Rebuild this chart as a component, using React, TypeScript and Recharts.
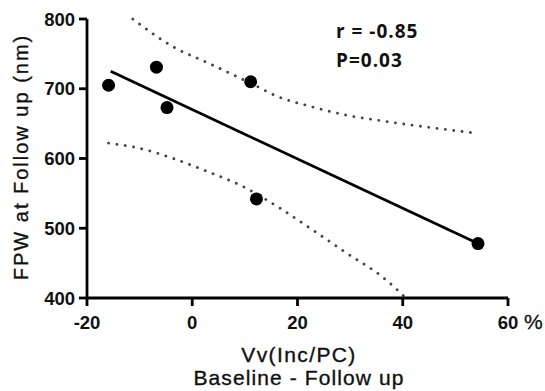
// Scatter of FPW at follow-up vs change in Vv(Inc/PC), with fit line and dotted 95% bands.

import { ComposedChart, Line, Scatter, XAxis, YAxis } from "recharts";

const pointX = [-15.9, -6.8, -4.8, 11.1, 12.2, 54.3];
const pointY = [705, 731, 673, 710, 542, 478];

const fitX = [-15.5, 54.3];
const fitY = [725, 478];

const upperX = [-11.3, -3.6, 3.0, 11.1, 16.2, 22.8, 29.4, 36, 42.6, 53.2];
const upperY = [800, 760, 737, 708, 689, 674, 662, 654, 647, 637];

const lowerX = [-15.9, -10.2, -3.6, 3.0, 9.6, 16.2, 22.8, 29.4, 36, 40.6];
const lowerY = [622, 615, 600, 581, 560, 531, 498, 464, 431, 400];

const xTicks = [-20, 0, 20, 40, 60];
const yTicks = [400, 500, 600, 700, 800];

const pts = (xs: number[], ys: number[]) => xs.map((x, i) => ({ x, y: ys[i] }));

const FONT = "'Liberation Sans', Arial, sans-serif";
const INK = "#111";

function XTick(props: any) {
  const { x, y, payload } = props;
  return (
    <g>
      <text x={x} y={y} dy={13} textAnchor="middle" fontFamily={FONT} fontSize={18.5} fontWeight={700} fill={INK}>
        {payload.value}
      </text>
      {payload.value === 60 && (
        <text x={x + 16} y={y} dy={13} fontFamily={FONT} fontSize={21} fill={INK} stroke={INK} strokeWidth={0.3}>%</text>
      )}
    </g>
  );
}

function Dot(props: any) {
  return <circle cx={props.cx} cy={props.cy} r={6.5} fill="#000" />;
}

export default function App() {
  return (
    <div style={{ position: "absolute", left: 0, top: 0, width: 545, height: 391, background: "#fff" }}>
      <ComposedChart width={545} height={391} margin={{ top: 19, right: 37, bottom: 0, left: 0 }}>
        <XAxis dataKey="x" type="number" domain={[-20, 60]} ticks={xTicks} height={93}
               axisLine={{ stroke: "#000", strokeWidth: 2.8 }} tickLine={{ stroke: "#000", strokeWidth: 2.8 }}
               tickSize={8} tickMargin={10} tick={<XTick />} />
        <YAxis dataKey="y" type="number" domain={[400, 800]} ticks={yTicks} width={87}
               axisLine={{ stroke: "#000", strokeWidth: 2.8 }} tickLine={{ stroke: "#000", strokeWidth: 2.8 }}
               tickSize={8} tickMargin={4}
               tick={{ fontFamily: FONT, fontSize: 18.5, fontWeight: 700, fill: INK }} />
        <Line data={pts(upperX, upperY)} dataKey="y" type="monotone" stroke="#444" strokeWidth={2.8}
              strokeDasharray="0.1 8.3" strokeLinecap="round" dot={false} isAnimationActive={false} />
        <Line data={pts(lowerX, lowerY)} dataKey="y" type="monotone" stroke="#444" strokeWidth={2.8}
              strokeDasharray="0.1 8.3" strokeLinecap="round" dot={false} isAnimationActive={false} />
        <Line data={pts(fitX, fitY)} dataKey="y" type="linear" stroke="#000" strokeWidth={2.8}
              dot={false} isAnimationActive={false} />
        <Scatter data={pts(pointX, pointY)} dataKey="y" fill="#000" shape={<Dot />} isAnimationActive={false} />
      </ComposedChart>
      <svg width={545} height={391} style={{ position: "absolute", left: 0, top: 0, pointerEvents: "none" }}>
        <g fontFamily={FONT} fill={INK} stroke={INK} strokeWidth={0.35}>
          <text transform="translate(28,157) rotate(-90)" textAnchor="middle" fontSize={20} letterSpacing={2}>
            FPW at Follow up (nm)
          </text>
          <text x={299} y={362} textAnchor="middle" fontSize={21} letterSpacing={1.4}>Vv(Inc/PC)</text>
          <text x={299} y={385} textAnchor="middle" fontSize={21} letterSpacing={1.1}>Baseline - Follow up</text>
        </g>
        <g fontFamily="'Open Sans', Lato, sans-serif" fontSize={19} fontWeight={700} fill={INK} letterSpacing={1}>
          <text x={336} y={38}>r = -0.85</text>
          <text x={336} y={67}>P=0.03</text>
        </g>
      </svg>
    </div>
  );
}
